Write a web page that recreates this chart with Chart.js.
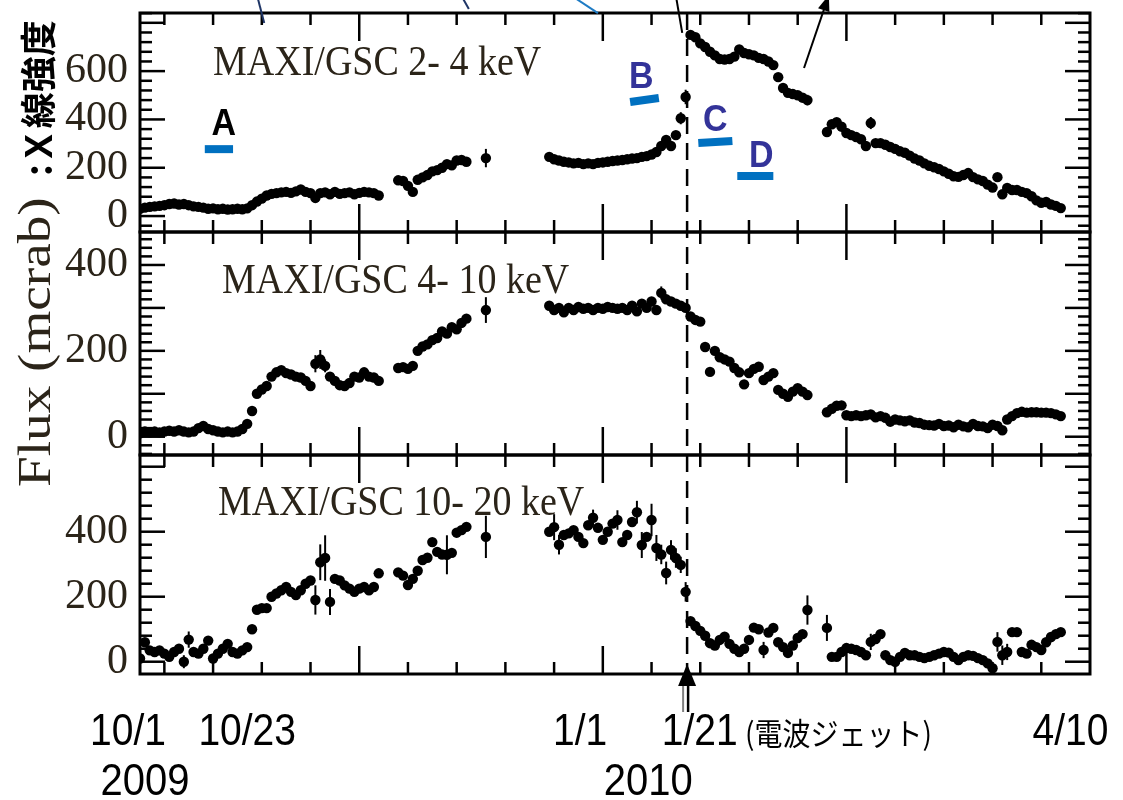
<!DOCTYPE html>
<html lang="ja">
<head>
<meta charset="utf-8">
<title>MAXI/GSC light curves</title>
<script src="https://cdn.jsdelivr.net/npm/chart.js@4.4.1/dist/chart.umd.min.js"></script>
<style>
html,body{margin:0;padding:0;background:#fff;overflow:hidden;}
canvas{display:block;}
</style>
</head>
<body>
<canvas id="lc" width="1123" height="800"></canvas>
<script>
// ---------- DATA ----------
// Observation days (MJD)
const days = [
55105,55106,55107,55108,55109,55110,55111,55112,55113,55114,55115,55116,55117,55118,55119,55120,55121,55122,55123,55124,
55125,55126,55127,55128,55129,55130,55131,55132,55133,55134,55135,55136,55137,55138,55139,55140,55141,55142,55143,55144,
55145,55146,55147,55148,55149,55150,55151,55152,55153,55154,
55158,55159,55160,55161,55162,55163,55164,55165,55166,55167,55168,55169,55170,55171,55172,
55176,
55189,55190,55191,55192,55193,55194,55195,55196,55197,55198,55199,55200,55201,55202,55203,55204,55205,55206,55207,55208,
55209,55210,55211,55212,55213,55214,55215,55216,55217,
55218,55219,55220,55221,55222,55223,55224,55225,55226,55227,55228,55229,55230,55231,55232,55233,55234,55235,55236,55237,
55238,55239,55240,55241,55242,
55246,55247,55248,55249,55250,55251,55252,55253,55254,55255,55256,55257,55258,55259,55260,55261,55262,55263,55264,55265,
55266,55267,55268,55269,55270,55271,55272,55273,55274,55275,55276,55277,55278,55279,55280,55281,55282,55283,55284,55285,
55286,55287,55288,55289,55290,55291,55292,55293,55294
];
// 2-4 keV flux (mcrab)
const soft = [
30,35,38,40,42,45,50,52,48,50,45,40,38,35,30,32,28,30,27,28,
30,28,32,45,60,72,85,92,95,98,100,96,102,110,100,95,75,95,98,90,
100,92,95,98,90,96,100,98,95,85,
148,145,125,100,150,160,170,185,190,200,215,210,230,232,225,
240,
245,235,230,225,222,218,220,215,218,215,220,222,225,228,230,232,235,238,240,245,
248,255,265,290,315,290,335,405,493,
750,740,715,700,680,665,650,648,650,660,690,675,670,665,655,650,640,625,575,530,
510,505,500,490,480,
348,380,389,370,344,335,327,318,290,385,302,302,295,286,278,268,262,250,238,230,
218,208,202,195,185,175,165,162,170,178,161,152,145,130,118,161,90,116,108,108,
100,95,82,65,55,58,48,42,33
];
// 4-10 keV flux (mcrab)
const mid = [
8,12,10,12,10,12,14,12,15,12,10,12,20,25,18,15,12,10,12,10,
12,18,30,60,100,110,118,140,150,155,148,145,140,138,130,118,170,180,165,140,
130,120,118,125,140,138,150,140,138,130,
160,162,158,165,200,210,215,225,230,245,240,255,250,265,275,
295,
305,295,300,290,300,295,302,298,300,295,300,298,302,300,298,300,295,305,292,310,
300,315,295,335,320,315,310,305,300,
280,272,268,209,151,200,185,180,175,160,150,122,148,158,163,132,140,148,109,100,
93,105,113,105,97,
57,65,72,73,50,48,50,48,50,52,45,48,44,35,40,38,36,38,33,32,
28,27,26,30,25,26,22,28,24,22,30,25,24,20,28,25,15,40,48,55,
58,56,57,57,56,56,55,52,48
];
// 10-20 keV flux (mcrab)
const hard = [
10,60,35,30,35,25,15,30,40,0,68,30,25,40,65,10,25,40,55,30,
25,35,45,100,160,165,165,200,210,220,230,215,205,220,240,250,190,306,319,184,
255,250,235,225,215,225,230,220,230,272,
275,265,236,255,280,313,320,368,338,330,329,335,397,405,415,
384,
400,414,360,390,395,405,384,365,420,443,412,375,400,425,436,368,390,430,460,359,
384,436,350,330,273,344,319,298,215,
125,110,95,80,57,50,67,77,55,40,30,40,67,105,100,36,90,104,60,45,
27,50,73,85,159,
104,15,15,30,42,40,36,30,20,61,70,85,20,5,0,15,27,20,20,15,
11,15,20,25,30,28,15,5,15,20,18,11,5,-5,-20,61,20,30,91,91,
30,25,52,45,36,60,76,85,91
];
// visible error bars (day, +/- mcrab)
const softErrDays = [55176, 55216, 55217, 55242, 55255, 55281];
const softErr     = [38, 25, 30, 22, 25, 15];
const midErrDays  = [55141, 55142, 55143, 55176, 55212];
const midErr      = [20, 22, 15, 30, 15];
const hardErrDays = [55114,55115,55141,55142,55143,55144,55168,55176,55190,55191,55198,55203,55207,55208,55210,55211,55212,55213,55214,55215,55216,55217,55233,55242,55246,55255,55281,55282,55283];
const hardErr     = [20,25,45,55,70,40,60,65,40,30,25,30,35,40,50,40,30,35,30,30,25,30,25,45,40,25,30,30,25];

// tick labels
const ticks1 = [0, 200, 400, 600];
const ticks2 = [0, 200, 400];
const ticks3 = [0, 200, 400];
const bandLabels = ['MAXI/GSC 2- 4 keV', 'MAXI/GSC 4- 10 keV', 'MAXI/GSC 10- 20 keV'];
const yTitle = 'Flux (mcrab)';
const yTitleJa = ':Ｘ線強度';
const dateText = ['10/1', '10/23', '1/1', '1/21', '4/10'];
const dateDays = [55105, 55127, 55197, 55217, 55296];
const yearText = ['2009', '2010'];
const yearDays = [55105, 55197];
const jetNote = '(電波ジェット)';
const jetDay = 55217.3;
const markLetters = ['A', 'B', 'C', 'D'];

// ---------- STYLE / ANNOTATION GEOMETRY (data coords of 2-4 keV panel) ----------
const INK = '#2b2419';
const markText = [[55122.2, 335], [55207.9, 530], [55223.1, 352], [55232.5, 203]];
const markBars = [[55118.3, 277, 55124.1, 277], [55205.6, 472, 55211.5, 489], [55219.6, 302, 55226.6, 311], [55227.6, 166, 55235.0, 166]];
const markColors = ['#000000', '#333399', '#333399', '#333399'];
const callouts = [
  {from: [55129.2, 900], to: [55130.5, 799], color: '#1f3566', head: false},
  {from: [55171.3, 900], to: [55172.5, 857], color: '#1f3566', head: false},
  {from: [55194.5, 900], to: [55199.0, 840], color: '#1e7bc4', head: false},
  {from: [55215.1, 900], to: [55216.3, 758], color: '#000000', head: false},
  {from: [55241.3, 613], to: [55246.4, 915], color: '#000000', head: true}
];
const titleDx = [73, 82, 78], titleDy = [62, 61, 60];
const dateDx = [-12, 0, -8, 14, 0], yearDx = [5, 60];
const tickStyle = {y1: {major: 200, minor: 40}, y2: {major: 100, minor: 20}, y3: {major: 200, minor: 40}};

const bandAxes = ['y1', 'y2', 'y3'];
const bandValues = [soft, mid, hard];
const bandErrDays = [softErrDays, midErrDays, hardErrDays];
const bandErrs = [softErr, midErr, hardErr];

function seg(ctx, x1, y1, x2, y2) { ctx.beginPath(); ctx.moveTo(x1, y1); ctx.lineTo(x2, y2); ctx.stroke(); }
function txt(ctx, s, x, y, font, color, align, sy) {
  ctx.save();
  ctx.font = font; ctx.fillStyle = color; ctx.textAlign = align || 'left'; ctx.textBaseline = 'alphabetic';
  ctx.translate(x, y); ctx.scale(1, sy || 1); ctx.fillText(s, 0, 0);
  ctx.restore();
}

const overlay = {
  id: 'overlay',
  beforeDatasetsDraw(chart) {
    const ctx = chart.ctx, xs = chart.scales.x, area = chart.chartArea;
    ctx.save();
    ctx.strokeStyle = '#000'; ctx.lineWidth = 2.5; ctx.setLineDash([17, 9]);
    const jx = xs.getPixelForValue(jetDay);
    seg(ctx, jx, area.top, jx, area.bottom);
    ctx.restore();
    ctx.save(); ctx.strokeStyle = '#000'; ctx.lineWidth = 2;
    bandAxes.forEach((ax, k) => {
      const ys = chart.scales[ax];
      bandErrDays[k].forEach((d, j) => {
        const i = days.indexOf(d);
        const v = bandValues[k][i], e = bandErrs[k][j];
        const px = xs.getPixelForValue(d);
        seg(ctx, px, ys.getPixelForValue(v - e), px, ys.getPixelForValue(v + e));
      });
    });
    ctx.restore();
  },
  afterDraw(chart) {
    const ctx = chart.ctx, xs = chart.scales.x, area = chart.chartArea;
    const left = area.left, right = area.right;
    ctx.save();
    ctx.strokeStyle = '#000'; ctx.lineCap = 'butt';
    bandAxes.forEach((ax, k) => {
      const ys = chart.scales[ax], st = tickStyle[ax];
      const top = ys.top, bot = ys.bottom;
      ctx.lineWidth = 2.5;
      for (let v = Math.ceil(ys.min / st.minor) * st.minor; v <= ys.max; v += st.minor) {
        const py = ys.getPixelForValue(v);
        const len = (v % st.major === 0) ? 25 : 12;
        seg(ctx, left, py, left + len, py);
        seg(ctx, right, py, right - len, py);
      }
      for (let d = Math.ceil(xs.min / 10) * 10 + (xs.min % 10 === 0 ? 10 : 0); d < xs.max; d += 10) {
        const px = xs.getPixelForValue(d);
        const len = (d % 50 === 0) ? 28 : 12;
        seg(ctx, px, top, px, top + len);
        seg(ctx, px, bot, px, bot - len);
      }
      ctx.lineWidth = 3;
      ctx.strokeRect(left, top, right - left, bot - top);
      txt(ctx, bandLabels[k], left + titleDx[k], top + titleDy[k], '38px "Liberation Serif"', INK, 'left', 1.12);
    });
    ctx.restore();

    // annotations in the 2-4 keV panel
    const ys1 = chart.scales.y1;
    const P = (d, v) => [xs.getPixelForValue(d), ys1.getPixelForValue(v)];
    ctx.save();
    ctx.strokeStyle = '#0070C0'; ctx.lineWidth = 8; ctx.lineCap = 'butt';
    markBars.forEach(b => { const a = P(b[0], b[1]), c = P(b[2], b[3]); seg(ctx, a[0], a[1], c[0], c[1]); });
    ctx.restore();
    markLetters.forEach((L, i) => {
      const p = P(markText[i][0], markText[i][1]);
      txt(ctx, L, p[0], p[1], 'bold 34px "Liberation Sans"', markColors[i], 'center', 1.1);
    });
    ctx.save();
    ctx.lineWidth = 2;
    callouts.forEach(c => {
      const a = P(c.from[0], c.from[1]), b = P(c.to[0], c.to[1]);
      ctx.strokeStyle = c.color; ctx.fillStyle = c.color;
      seg(ctx, a[0], a[1], b[0], b[1]);
      if (c.head) {
        const ang = Math.atan2(b[1] - a[1], b[0] - a[0]);
        ctx.beginPath();
        ctx.moveTo(b[0], b[1]);
        ctx.lineTo(b[0] - 16 * Math.cos(ang) + 6 * Math.sin(ang), b[1] - 16 * Math.sin(ang) - 6 * Math.cos(ang));
        ctx.lineTo(b[0] - 16 * Math.cos(ang) - 6 * Math.sin(ang), b[1] - 16 * Math.sin(ang) + 6 * Math.cos(ang));
        ctx.closePath(); ctx.fill();
      }
    });
    ctx.restore();

    // y axis title
    ctx.save();
    ctx.translate(50, 487); ctx.rotate(-Math.PI / 2); ctx.scale(1.2, 1);
    ctx.font = '46px "Liberation Serif"'; ctx.fillStyle = INK; ctx.textAlign = 'left';
    ctx.fillText(yTitle, 0, 0);
    ctx.restore();
    ctx.save();
    ctx.translate(52, 176); ctx.rotate(-Math.PI / 2);
    ctx.font = 'bold 36px "Noto Sans CJK JP"'; ctx.fillStyle = '#000'; ctx.textAlign = 'left';
    ctx.fillText(yTitleJa, 0, 0);
    ctx.restore();

    // date labels
    const base1 = area.bottom + 71, base2 = area.bottom + 121;
    dateText.forEach((t, i) => {
      txt(ctx, t, xs.getPixelForValue(dateDays[i]) + dateDx[i], base1, '39px "Liberation Sans"', '#000', 'center', 1.15);
    });
    yearText.forEach((t, i) => {
      txt(ctx, t, xs.getPixelForValue(yearDays[i]) + yearDx[i], base2, '40px "Liberation Sans"', '#000', 'center', 1.12);
    });
    txt(ctx, jetNote, xs.getPixelForValue(jetDay) + 58, base1, '28px "Noto Sans CJK JP"', '#000', 'left', 1.1);

    // jet arrow below axis
    const jx = xs.getPixelForValue(jetDay);
    ctx.save();
    ctx.strokeStyle = '#808080'; ctx.lineWidth = 2;
    seg(ctx, jx - 4, area.bottom + 10, jx - 4, area.bottom + 38);
    ctx.strokeStyle = '#000'; ctx.lineWidth = 2.5;
    seg(ctx, jx + 1, area.bottom + 10, jx + 1, area.bottom + 38);
    ctx.fillStyle = '#000';
    ctx.beginPath();
    ctx.moveTo(jx, area.bottom - 10); ctx.lineTo(jx - 9, area.bottom + 12); ctx.lineTo(jx + 9, area.bottom + 12);
    ctx.closePath(); ctx.fill();
    ctx.restore();
  }
};

function yAxis(min, max, tickVals, weight) {
  return {
    type: 'linear', position: 'left', stack: 'bands', stackWeight: weight,
    min: min, max: max,
    grid: {display: false, drawTicks: false},
    border: {display: false},
    ticks: {font: {family: 'Liberation Serif', size: 42, lineHeight: 1}, color: INK, padding: 12, autoSkip: false},
    afterBuildTicks: s => { s.ticks = tickVals.map(v => ({value: v})); },
    afterFit: s => { s.width = 140; s.paddingTop = 0; s.paddingBottom = 0; }
  };
}

const toPts = vals => days.map((d, i) => ({x: d, y: vals[i]}));

new Chart(document.getElementById('lc'), {
  type: 'scatter',
  data: {
    datasets: bandValues.map((vals, k) => ({
      data: toPts(vals), yAxisID: bandAxes[k],
      pointRadius: 5.2, pointHoverRadius: 5.2, pointBackgroundColor: '#000',
      pointBorderWidth: 0, borderWidth: 0, borderColor: '#000', showLine: false
    }))
  },
  options: {
    responsive: false, animation: false, devicePixelRatio: 1, events: [],
    layout: {padding: {top: 13, right: 33, bottom: 126, left: 0}, autoPadding: false},
    plugins: {legend: {display: false}, tooltip: {enabled: false}, title: {display: false}},
    scales: {
      x: {type: 'linear', min: 55105, max: 55300, display: false},
      y3: yAxis(-37.8, 636, ticks3, 219),
      y2: yAxis(-42.6, 476.8, ticks2, 223),
      y1: yAxis(-66, 840.6, ticks1, 219)
    }
  },
  plugins: [overlay]
});
</script>
</body>
</html>
